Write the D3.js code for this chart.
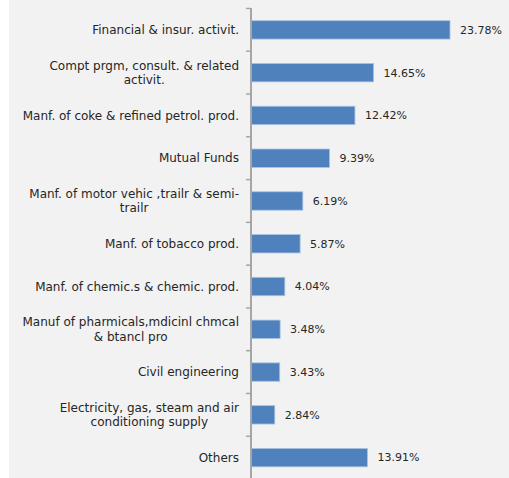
<!DOCTYPE html>
<html>
<head>
<meta charset="utf-8">
<script src="https://cdn.jsdelivr.net/npm/d3@7"></script>
<style>
  html, body { margin: 0; padding: 0; background: #ffffff; }
  svg { display: block; }
  text { font-family: "DejaVu Sans", sans-serif; fill: #262626; }
</style>
</head>
<body>
<svg id="chart" width="509" height="478"></svg>
<script>
// Sector shares of the portfolio (%), top to bottom
const categories = [
  "Financial & insur. activit.",
  "Compt prgm, consult. & related\nactivit.",
  "Manf. of coke & refined petrol. prod.",
  "Mutual Funds",
  "Manf. of motor vehic ,trailr & semi-\ntrailr",
  "Manf. of tobacco prod.",
  "Manf. of chemic.s & chemic. prod.",
  "Manuf of pharmicals,mdicinl chmcal\n& btancl pro",
  "Civil engineering",
  "Electricity, gas, steam and air\nconditioning supply",
  "Others"
];
const shares = [23.78, 14.65, 12.42, 9.39, 6.19, 5.87, 4.04, 3.48, 3.43, 2.84, 13.91];

const svg = d3.select("#chart");
const W = 509, H = 478;

// plot panel background
svg.append("rect")
  .attr("x", 9).attr("y", 0)
  .attr("width", W - 9).attr("height", H)
  .attr("fill", "#f2f2f2");

const x0 = 251;
const x = d3.scaleLinear().domain([0, 23.78]).range([x0, 450]);
const y = d3.scaleBand().domain(categories).range([8.5, 479]).paddingInner(0.57).paddingOuter(0.285);
const step = y.step();

// bars
svg.append("g").selectAll("rect")
  .data(categories)
  .join("rect")
  .attr("x", x(0))
  .attr("y", d => y(d))
  .attr("width", (d, i) => x(shares[i]) - x(0))
  .attr("height", y.bandwidth())
  .attr("fill", "#4f81bd")
  .attr("stroke", "#a9c2e2")
  .attr("stroke-width", 0.8);

// value labels
const fmt = d3.format(".2f");
svg.append("g").selectAll("text")
  .data(categories)
  .join("text")
  .attr("x", (d, i) => x(shares[i]) + 10)
  .attr("y", d => y(d) + y.bandwidth() / 2)
  .attr("dy", "0.35em")
  .attr("font-size", 11)
  .text((d, i) => fmt(shares[i]) + "%");

// category axis line with outside ticks on band boundaries
const axisG = svg.append("g");
axisG.append("line")
  .attr("x1", x0).attr("x2", x0)
  .attr("y1", 8).attr("y2", H)
  .attr("stroke", "#a6a6a6").attr("stroke-width", 2);
axisG.selectAll("line.tick")
  .data(categories)
  .join("line")
  .attr("class", "tick")
  .attr("x1", x0 - 5).attr("x2", x0)
  .attr("y1", d => y(d) - (step - y.bandwidth()) / 2)
  .attr("y2", d => y(d) - (step - y.bandwidth()) / 2)
  .attr("stroke", "#a6a6a6").attr("stroke-width", 1.5);

// category labels: centred on each band, wrapped lines centred on one another
const lineH = 14.3;
const labels = svg.append("g").selectAll("text")
  .data(categories)
  .join("text")
  .attr("font-size", 12)
  .attr("text-anchor", "middle")
  .each(function (d) {
    const lines = d.split("\n");
    const t = d3.select(this);
    const cy = y(d) + y.bandwidth() / 2;
    lines.forEach((ln, k) => {
      t.append("tspan")
        .attr("x", 0)
        .attr("y", cy + (k - (lines.length - 1) / 2) * lineH)
        .attr("dy", "0.35em")
        .text(ln);
    });
  });

// right-align each label block against the axis
labels.each(function () {
  const bb = this.getBBox();
  d3.select(this).selectAll("tspan").attr("x", 239 - bb.width / 2);
});
</script>
</body>
</html>
